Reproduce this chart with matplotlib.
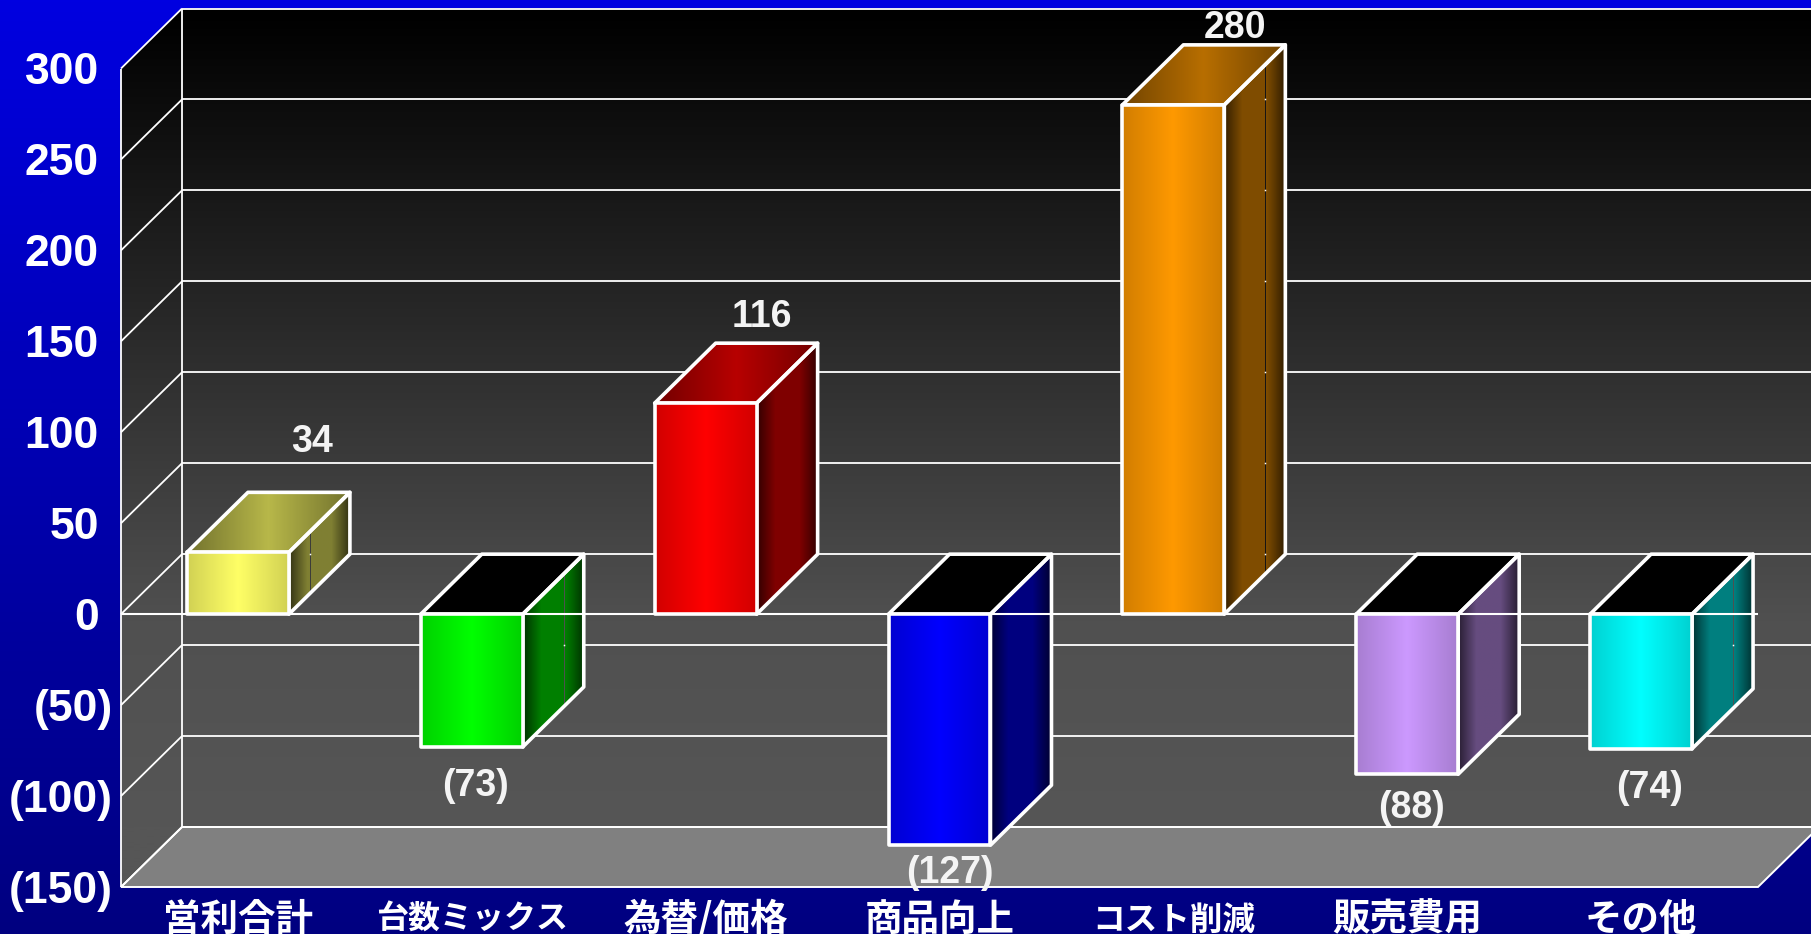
import matplotlib
matplotlib.use("Agg")
import matplotlib.pyplot as plt
import numpy as np
from matplotlib.patches import Polygon

categories = ["営利合計", "台数ミックス", "為替/価格", "商品向上", "コスト削減", "販売費用", "その他"]
values = [34, -73, 116, -127, 280, -88, -74]
value_labels = ["34", "(73)", "116", "(127)", "280", "(88)", "(74)"]
y_ticks = [300, 250, 200, 150, 100, 50, 0, -50, -100, -150]
y_tick_labels = ["300", "250", "200", "150", "100", "50", "0", "(50)", "(100)", "(150)"]
bar_colors = ["#ffff66", "#00ff00", "#ff0000", "#0000ff", "#ff9900", "#cc99ff", "#00ffff"]

W, H = 1811, 934
PLOT_H = 818.5
DEPTH_X = 61 / 233.86           # oblique depth in category units
DEPTH_Y = 60 / (PLOT_H / 450)   # oblique depth in value units
BAR_W = 0.436
LATIN = ["Liberation Sans", "Noto Sans CJK JP"]

# label offsets from the bar's front top/bottom, in pixels
label_dx = [74, 4, 56, 10, 62, 4, 8]
label_dy = [114, -35, 90, -24, 81, -30, -35]

# see-through slit on some side faces: position across the face and colour behind it
slit_pos = [0.35, 0.67, None, None, 0.67, None, 0.67]
slit_colors = ["#3a3a3a", "#505050", None, None, "#141414", None, "#505050"]

# katakana is set narrower in the original, so those labels get a smaller size
xlabel_sizes = [27, 23, 27, 27, 23.5, 27, 27]
xlabel_pads = [9, 12, 9, 9, 12, 9, 9]

fig = plt.figure(figsize=(W / 100, H / 100), dpi=100)

# page background
bg = fig.add_axes([0, 0, 1, 1], zorder=0)
grad = np.linspace(0, 1, 256)
bg_img = np.zeros((256, 1, 3))
bg_img[:, 0, 2] = np.interp(grad, [0, 1], [0xe0 / 255, 0x80 / 255])
bg.imshow(bg_img, aspect="auto", extent=(0, 1, 0, 1), origin="upper", interpolation="bilinear")
bg.axis("off")

ax = fig.add_axes([121 / W, (H - 887) / H, 1637 / W, PLOT_H / H], zorder=1)
ax.set_autoscale_on(False)
ax.patch.set_visible(False)
for s in ax.spines.values():
    s.set_visible(False)


def clipped_image(img, extent, poly_pts, z, origin="lower"):
    patch = Polygon(poly_pts, closed=True, facecolor="none", edgecolor="none", zorder=z)
    ax.add_patch(patch)
    im = ax.imshow(img, aspect="auto", extent=extent, origin=origin, zorder=z, interpolation="bilinear")
    im.set_clip_path(patch)
    im.set_clip_box(fig.bbox)
    return im


def hgrad(color, stops, factors):
    rgb = np.array(matplotlib.colors.to_rgb(color))
    xs = np.linspace(0, 1, 128)
    f = np.interp(xs, stops, factors)
    return (f[:, None] * rgb)[None, :, :]


x_end = len(categories)
y_bot, y_top = -150, 300
back_x0, back_x1 = DEPTH_X, x_end + DEPTH_X

# walls with the dark to grey fade
ys = np.linspace(y_bot, y_top + DEPTH_Y, 256)
gray = np.interp(ys, [-150, -117, -4, 331], [0x56, 0x56, 0x50, 0]) / 255
wall = np.repeat(gray[:, None, None], 3, axis=2)
wall_pts = [(0, y_top), (back_x0, y_top + DEPTH_Y), (back_x1, y_top + DEPTH_Y),
            (back_x1, y_bot + DEPTH_Y), (back_x0, y_bot + DEPTH_Y), (0, y_bot)]
clipped_image(wall, (0, back_x1, y_bot, y_top + DEPTH_Y), wall_pts, 1)

# floor
floor_pts = [(0, y_bot), (x_end, y_bot), (back_x1, y_bot + DEPTH_Y), (back_x0, y_bot + DEPTH_Y)]
ax.add_patch(Polygon(floor_pts, closed=True, facecolor="#808080", edgecolor="white",
                     linewidth=1.4, zorder=1.5, clip_on=False))

# grid lines on back and side walls
grid_kw = dict(color="white", linewidth=1.3, clip_on=False, zorder=2, solid_capstyle="butt")
for t in y_ticks:
    ax.plot([back_x0, back_x1], [t + DEPTH_Y, t + DEPTH_Y], **grid_kw)
    ax.plot([0, back_x0], [t, t + DEPTH_Y], **grid_kw)
ax.plot([0, 0], [y_bot, y_top], **grid_kw)
ax.plot([back_x0, back_x0], [y_bot + DEPTH_Y, y_top + DEPTH_Y], **grid_kw)

# bars
edge_kw = dict(edgecolor="white", facecolor="none", linewidth=2.6, clip_on=False, joinstyle="round")
for i, (v, c) in enumerate(zip(values, bar_colors)):
    x0 = i + 0.5 - BAR_W / 2
    x1 = i + 0.5 + BAR_W / 2
    y_low, y_high = min(v, 0), max(v, 0)

    # side face
    side = [(x1, y_low), (x1 + DEPTH_X, y_low + DEPTH_Y), (x1 + DEPTH_X, y_high + DEPTH_Y), (x1, y_high)]
    clipped_image(hgrad(c, [0, 0.3, 0.7, 1], [0.2, 0.5, 0.5, 0.2]),
                  (x1, x1 + DEPTH_X, y_low, y_high + DEPTH_Y), side, 3)
    ax.add_patch(Polygon(side, closed=True, zorder=3.3, **edge_kw))

    # slit in the side face, the back grid shows through as dots
    if slit_pos[i] is not None:
        xm = x1 + DEPTH_X * slit_pos[i]
        s_low = y_low + DEPTH_Y * slit_pos[i]
        s_high = y_high + DEPTH_Y * slit_pos[i]
        ax.plot([xm, xm], [s_low, s_high], color=slit_colors[i],
                linewidth=0.7, zorder=3.1, clip_on=False)
        for t in y_ticks:
            if s_low < t + DEPTH_Y < s_high:
                ax.plot([xm], [t + DEPTH_Y], marker="s", markersize=1.1, color="white",
                        markeredgewidth=0, zorder=3.2, clip_on=False)

    # top face
    top = [(x0, y_high), (x1, y_high), (x1 + DEPTH_X, y_high + DEPTH_Y), (x0 + DEPTH_X, y_high + DEPTH_Y)]
    if v < 0:
        ax.add_patch(Polygon(top, closed=True, facecolor="black", edgecolor="none", zorder=3, clip_on=False))
    else:
        clipped_image(hgrad(c, [0, 0.5, 1], [0.45, 0.72, 0.45]),
                      (x0, x1 + DEPTH_X, y_high, y_high + DEPTH_Y), top, 3)
    ax.add_patch(Polygon(top, closed=True, zorder=3.3, **edge_kw))

    # front face
    front = [(x0, y_low), (x1, y_low), (x1, y_high), (x0, y_high)]
    clipped_image(hgrad(c, [0, 0.5, 1], [0.82, 1, 0.82]), (x0, x1, y_low, y_high), front, 5)
    ax.add_patch(Polygon(front, closed=True, zorder=5.3, **edge_kw))

    ax.annotate(value_labels[i], xy=(i + 0.5, v),
                xytext=(label_dx[i] * 0.72, label_dy[i] * 0.72), textcoords="offset points",
                ha="center", va="center_baseline", color="#f4f4f4", fontsize=27, fontweight="bold",
                family=LATIN, zorder=6, annotation_clip=False)

# zero line runs over the side faces, not over the front faces
ax.plot([0, x_end], [0, 0], color="white", linewidth=1.5, zorder=4, clip_on=False, solid_capstyle="butt")

ax.set_xlim(0, x_end)
ax.set_ylim(y_bot, y_top)

ax.set_yticks(y_ticks, y_tick_labels, fontsize=32, fontweight="bold", color="white", family=LATIN)
ax.set_xticks(np.arange(len(categories)) + 0.5, categories, fontweight="bold", color="white",
              family=["Noto Sans CJK JP", "Liberation Sans"])
for lab, size in zip(ax.get_xticklabels(), xlabel_sizes):
    lab.set_fontsize(size)
ax.tick_params(axis="both", length=0)
for t, tick in zip(y_ticks, ax.yaxis.get_major_ticks()):
    tick.set_pad(6 if t < 0 else 16)
for pad, tick in zip(xlabel_pads, ax.xaxis.get_major_ticks()):
    tick.set_pad(pad)

fig.savefig("out.png", dpi=100)
